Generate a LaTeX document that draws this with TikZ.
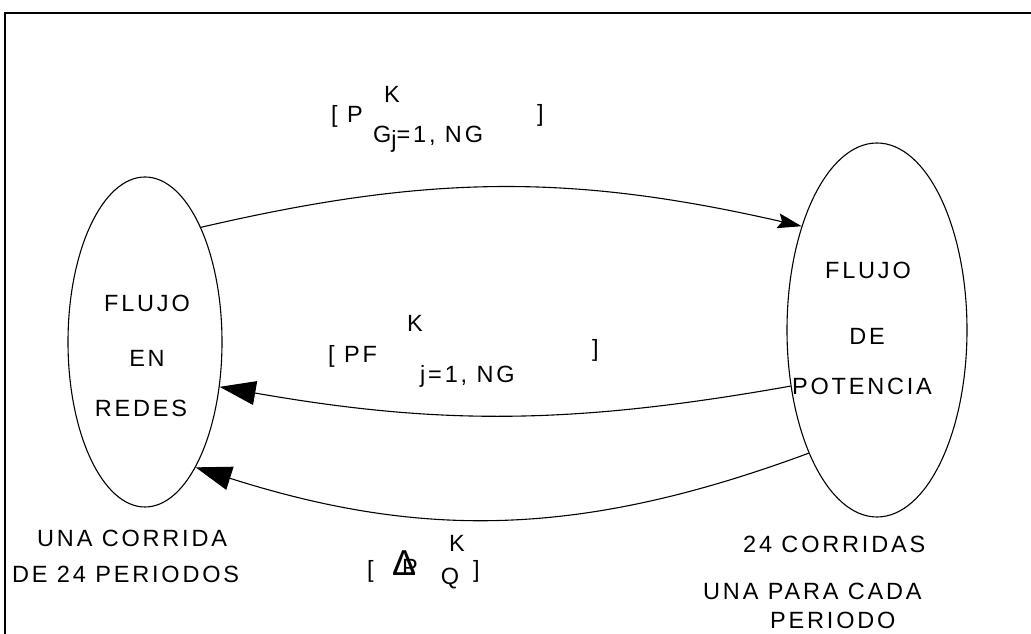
\documentclass[tikz,border=0pt]{standalone}
\usepackage{fontspec}
\setmainfont{Liberation Sans}[LetterSpace=12]
\usetikzlibrary{shapes.geometric, arrows.meta}

\begin{document}
\begin{tikzpicture}[
    x=1pt, y=1pt,
    elip/.style={ellipse, draw, line width=1.1pt, inner sep=0pt},
    txt/.style={anchor=base, inner sep=0pt, font=\fontsize{23.5}{28}\selectfont},
    txtw/.style={txt, anchor=base west},
    flecha/.style={line width=1.1pt, -{Triangle[length=36pt, width=24pt]}},
    flechac/.style={line width=1.1pt, -{Stealth[length=24pt, width=15pt, inset=4pt]}}
]
    \useasboundingbox (0,0) rectangle (1031,634);
    % marco
    \draw[line width=1.1pt] (5,0) -- (5,621) -- (1031,621);

    % Elipses
    \node[elip, minimum width=154pt, minimum height=330pt] (redes) at (145,292) {};
    \node[elip, minimum width=180pt, minimum height=374pt] (potencia) at (877,304) {};

    % Textos de las elipses
    \node[txt] (r1) at (147,322) {FLUJO};
    \node[txt] (r2) at (147,267) {EN};
    \node[txt] (r3) at (141,217) {REDES};
    \node[txt] (p1) at (868,355) {FLUJO};
    \node[txt] (p2) at (867,289) {DE};
    \node[txt] (p3) at (862,239) {POTENCIA};

    % Etiquetas de las flechas
    \node[txtw] (a1) at (331,511) {[ P};
    \node[txt] (a2) at (392,531) {K};
    \node[txtw] (a3) at (373,491) {G\raisebox{-5pt}{j}=1, NG};
    \node[txtw] (a4) at (537,512) {]};
    \node[txtw] (b1) at (328,271) {[ PF};
    \node[txt] (b2) at (415,302) {K};
    \node[txtw] (b3) at (420,251) {j=1, NG};
    \node[txtw] (b4) at (592,277) {]};
    \node[txtw] (c1) at (367,56) {[};
    \node[txtw] (c2) at (392,58) {\makebox[0pt][l]{\fontsize{36}{36}\selectfont Δ}\hspace{10pt}P};
    \node[txt] (c3) at (457,82) {K};
    \node[txt] (c4) at (450,49) {Q};
    \node[txtw] (c5) at (473,56) {]};

    % Notas inferiores
    \node[txtw] (n1) at (37,87) {UNA CORRIDA};
    \node[txtw] (n2) at (12,51) {DE 24 PERIODOS};
    \node[txtw] (m1) at (743,81) {24 CORRIDAS};
    \node[txtw] (m2) at (703,34) {UNA PARA CADA};
    \node[txtw] (m3) at (770,5) {PERIODO};

    % Flechas
    \draw[flechac] (redes.64) to[bend left=13] (potencia.126);
    \draw[flecha] (potencia.213) to[bend left=10] (redes.-31);
    \draw[flecha] (potencia.241) to[bend left=19] (redes.-68);
\end{tikzpicture}
\end{document}
